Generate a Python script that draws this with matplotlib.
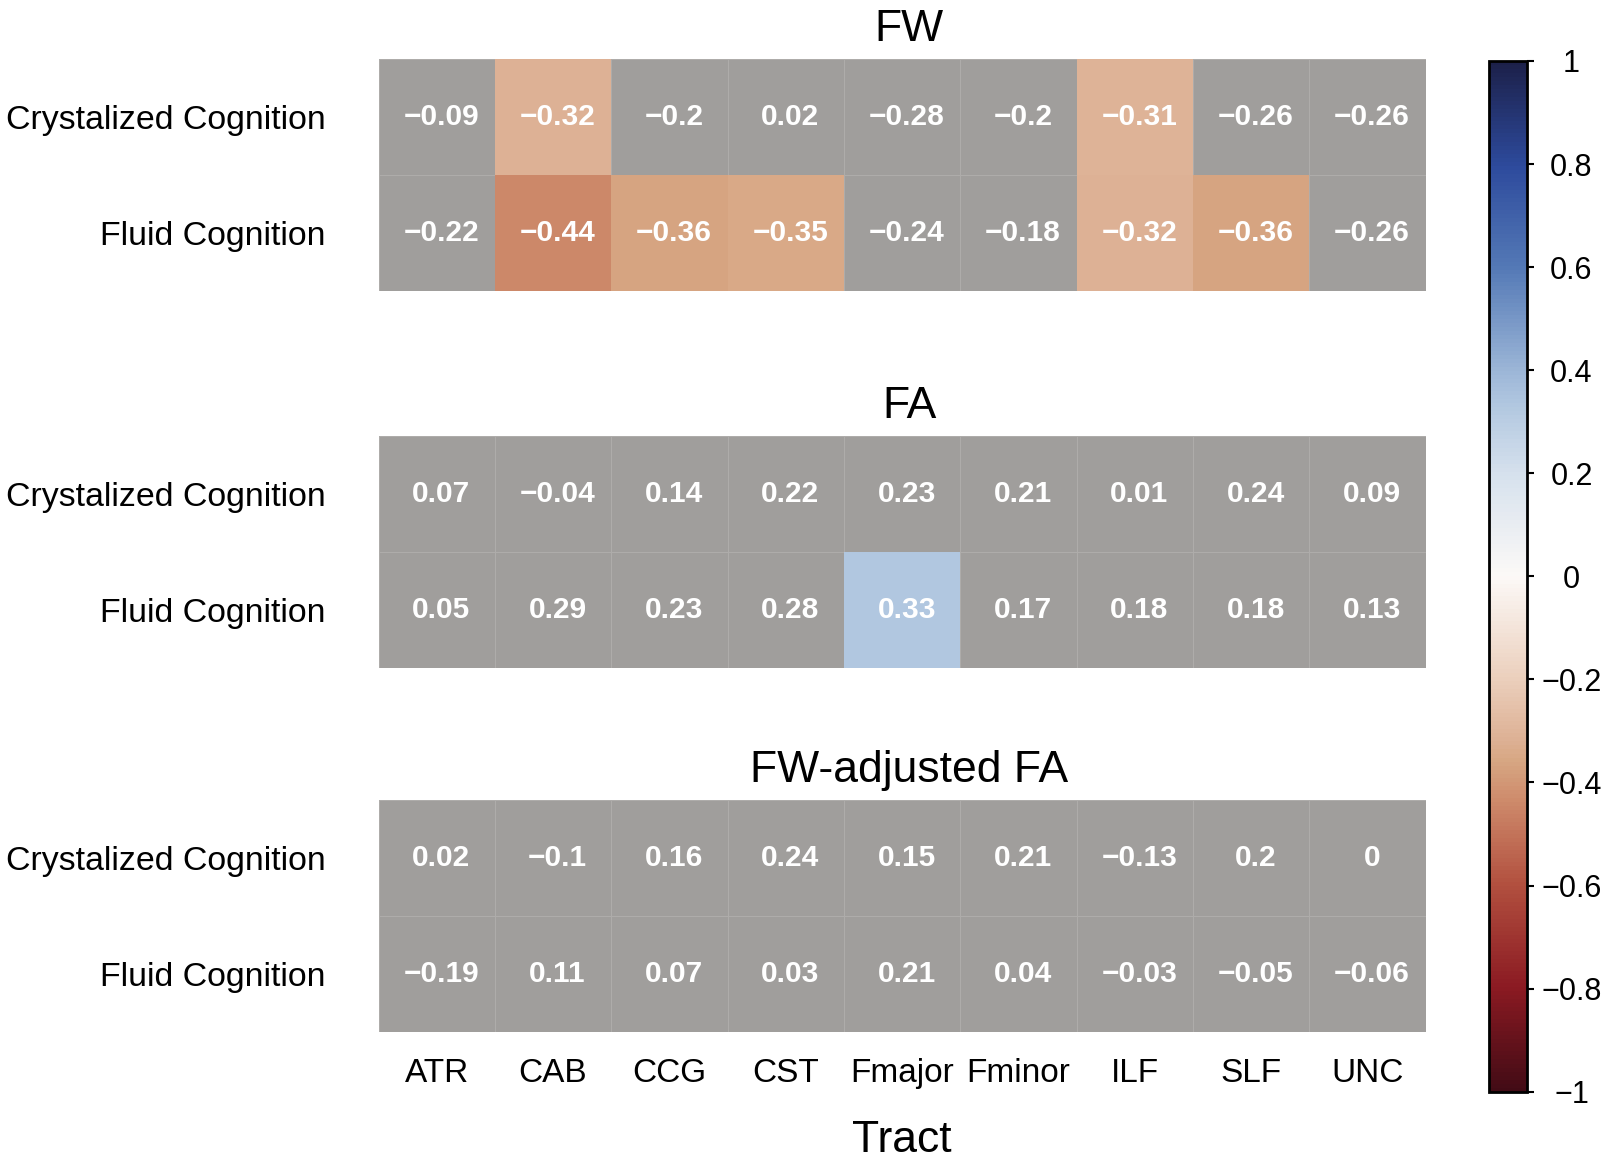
import numpy as np
import matplotlib
matplotlib.use("Agg")
import matplotlib.pyplot as plt
from matplotlib.colors import LinearSegmentedColormap, ListedColormap, Normalize
from matplotlib.cm import ScalarMappable
from matplotlib.transforms import ScaledTranslation

plt.rcParams['font.family'] = ['Liberation Sans', 'DejaVu Sans']

# ---------------- data ----------------
tracts = ['ATR', 'CAB', 'CCG', 'CST', 'Fmajor', 'Fminor', 'ILF', 'SLF', 'UNC']
outcomes = ['Crystalized Cognition', 'Fluid Cognition']
panel_titles = ['FW', 'FA', 'FW-adjusted FA']

fw_cryst = [-0.09, -0.32, -0.2, 0.02, -0.28, -0.2, -0.31, -0.26, -0.26]
fw_fluid = [-0.22, -0.44, -0.36, -0.35, -0.24, -0.18, -0.32, -0.36, -0.26]
fa_cryst = [0.07, -0.04, 0.14, 0.22, 0.23, 0.21, 0.01, 0.24, 0.09]
fa_fluid = [0.05, 0.29, 0.23, 0.28, 0.33, 0.17, 0.18, 0.18, 0.13]
fwa_cryst = [0.02, -0.1, 0.16, 0.24, 0.15, 0.21, -0.13, 0.2, 0]
fwa_fluid = [-0.19, 0.11, 0.07, 0.03, 0.21, 0.04, -0.03, -0.05, -0.06]

# significance (coloured cells)
fw_cryst_sig = [False, True, False, False, False, False, True, False, False]
fw_fluid_sig = [False, True, True, True, False, False, True, True, False]
fa_cryst_sig = [False] * 9
fa_fluid_sig = [False, False, False, False, True, False, False, False, False]
fwa_cryst_sig = [False] * 9
fwa_fluid_sig = [False] * 9

cbar_ticks = [-1, -0.8, -0.6, -0.4, -0.2, 0, 0.2, 0.4, 0.6, 0.8, 1]

panels = [
    (np.array([fw_cryst, fw_fluid]), np.array([fw_cryst_sig, fw_fluid_sig])),
    (np.array([fa_cryst, fa_fluid]), np.array([fa_cryst_sig, fa_fluid_sig])),
    (np.array([fwa_cryst, fwa_fluid]), np.array([fwa_cryst_sig, fwa_fluid_sig])),
]

# ---------------- colormap (balance-like, red negative / blue positive) ----------------
cmap = LinearSegmentedColormap.from_list('bal', [
    (0.00, '#420b15'),
    (0.10, '#8b1a22'),
    (0.20, '#b2503f'),
    (0.28, '#cd896a'),
    (0.32, '#d7a682'),
    (0.34, '#ddb094'),
    (0.40, '#ebcfbc'),
    (0.50, '#fcf9f7'),
    (0.60, '#d6e1ed'),
    (0.665, '#b2c8e0'),
    (0.70, '#9cb6d7'),
    (0.80, '#5479b6'),
    (0.90, '#2d4a9c'),
    (1.00, '#1c2049'),
], N=256)
norm = Normalize(vmin=-1, vmax=1)
gray = ListedColormap(['#a09e9c'])

W, H = 1611, 1163
fig = plt.figure(figsize=(W / 100, H / 100), dpi=100)

left_px, right_px = 378.5, 1425.5
tops = [59, 436.5, 800]
bottoms = [291, 668, 1032]

def fmt(v):
    s = f"{v:g}"
    if s in ('-0',):
        s = '0'
    return s.replace('-', '\u2212')

up = ScaledTranslation(0, 2.3 / 72, fig.dpi_scale_trans)

for i, ((vals, sig), title) in enumerate(zip(panels, panel_titles)):
    ax = fig.add_axes([left_px / W, 1 - bottoms[i] / H,
                       (right_px - left_px) / W, (bottoms[i] - tops[i]) / H])
    nr, nc = vals.shape
    xe = np.arange(nc + 1)
    ye = np.arange(nr + 1)
    ax.pcolormesh(xe, ye, np.zeros_like(vals), cmap=gray, vmin=-1, vmax=1,
                  edgecolors='#aeacaa', linewidth=0.6)
    colored = np.ma.masked_where(~sig, vals)
    ax.pcolormesh(xe, ye, colored, cmap=cmap, norm=norm,
                  edgecolors='none', linewidth=0)
    for r in range(nr):
        for c in range(nc):
            ax.text(c + 0.54, r + 0.5, fmt(vals[r, c]), ha='center', va='center',
                    color='white', fontsize=21.5, fontweight='bold')
    ax.set_xlim(0, nc)
    ax.set_ylim(nr, 0)
    ax.set_yticks(np.arange(nr) + 0.5)
    ax.set_yticklabels(outcomes, fontsize=24.4, va='center_baseline')
    for lbl in ax.get_yticklabels():
        lbl.set_transform(lbl.get_transform() + up)
    ax.tick_params(axis='y', length=0, pad=38)
    if i == 2:
        ax.set_xticks(np.arange(nc) + 0.5)
        ax.set_xticklabels(tracts, fontsize=24)
        ax.tick_params(axis='x', length=0, pad=19)
        ax.set_xlabel('Tract', fontsize=32, labelpad=22)
    else:
        ax.set_xticks([])
    for sp in ax.spines.values():
        sp.set_visible(False)
    ax.set_title(title, fontsize=32, pad=13, x=0.5067)

# ---------------- colorbar ----------------
cax = fig.add_axes([1489 / W, 1 - 1091.7 / H, 38 / W, (1091.7 - 61) / H])
sm = ScalarMappable(norm=norm, cmap=cmap)
cb = fig.colorbar(sm, cax=cax, ticks=cbar_ticks)
cb.set_ticklabels([fmt(round(t, 1)) for t in cbar_ticks])
cb.outline.set_linewidth(2.0)
cb.outline.set_edgecolor('black')
cax.tick_params(length=5, width=1.5, pad=27, labelsize=22, colors='black')
for t in cax.get_yticklabels():
    t.set_horizontalalignment('center')

fig.savefig('out.png', dpi=100)
